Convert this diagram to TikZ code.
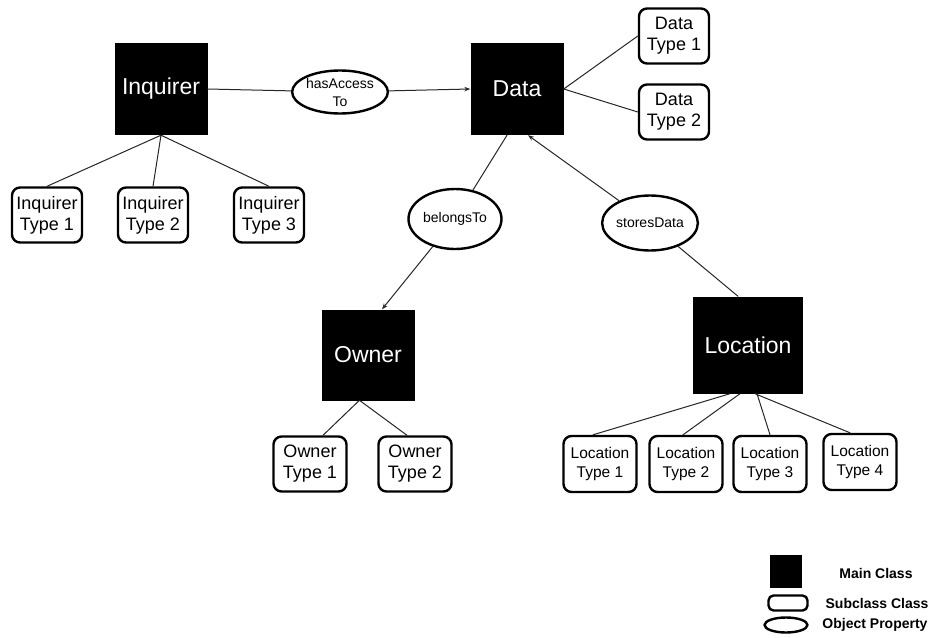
\documentclass[tikz,border=0pt]{standalone}
\usepackage{fontspec}
\setmainfont{Liberation Sans}
\usetikzlibrary{shapes.geometric,arrows.meta}

\begin{document}
\begin{tikzpicture}[x=1pt, y=-1pt, line cap=round, line join=round, >={Stealth[length=6pt,width=4.5pt]}]
	\tikzset{mainclass/.style={fill=black, text=white, inner sep=0pt, minimum width=93pt, minimum height=92pt, font=\fontsize{23}{26}\selectfont},
		subclass/.style={draw, line width=2.4pt, rounded corners=8pt, inner sep=0pt, minimum width=70pt, minimum height=55pt, align=center, font=\fontsize{18}{21}\selectfont},
		smallsub/.style={subclass, minimum width=73pt, minimum height=56pt, font=\fontsize{15.5}{19}\selectfont},
		property/.style={draw, ellipse, line width=2.4pt, inner sep=0pt, minimum width=93pt, align=center, font=\fontsize{14}{18}\selectfont},
		link/.style={line width=1pt, draw=black!85},
		legendtext/.style={font=\bfseries\fontsize{14}{16}\selectfont}}
	\useasboundingbox (0,0) rectangle (934,637);
	% main classes
	\node[mainclass] (inq) at (161,89) {Inquirer};
	\node[mainclass] (data) at (517,89) {Data};
	\node[mainclass, minimum height=91pt] (owner) at (368,355) {Owner};
	\node[mainclass, minimum width=110pt, minimum height=97pt] (loc) at (748,345) {Location};
	% object properties
	\node[property, minimum height=43pt] (hasacc) at (340,92) {hasAccess\\To};
	\node[property, minimum height=60pt] (belongs) at (455,219) {belongsTo};
	\node[property, minimum height=55pt] (stores) at (650,223) {storesData};
	% subclasses
	\node[subclass] (it1) at (47,215) {Inquirer\\Type 1};
	\node[subclass] (it2) at (153,215) {Inquirer\\Type 2};
	\node[subclass] (it3) at (269,215) {Inquirer\\Type 3};
	\node[subclass] (dt1) at (674,36) {Data\\Type 1};
	\node[subclass] (dt2) at (674,112) {Data\\Type 2};
	\node[subclass, minimum width=73pt] (ot1) at (310,464) {Owner\\Type 1};
	\node[subclass, minimum width=73pt] (ot2) at (415,464) {Owner\\Type 2};
	\node[smallsub] (lt1) at (600,464) {Location\\Type 1};
	\node[smallsub] (lt2) at (686,464) {Location\\Type 2};
	\node[smallsub] (lt3) at (770,464) {Location\\Type 3};
	\node[smallsub] (lt4) at (860,462) {Location\\Type 4};
	% connectors
	\draw[link] (inq.east) -- (hasacc);
	\draw[link, ->] (hasacc) -- (data.west);
	\draw[link] ([xshift=-10pt]data.south) -- (belongs);
	\draw[link, ->] (belongs) -- ([xshift=14pt]owner.north);
	\draw[link] ([xshift=-10pt]loc.north) -- (stores);
	\draw[link, ->] (stores) -- ([xshift=11pt]data.south);
	\draw[link] (data.east) -- (dt1.west) (data.east) -- (dt2.west);
	\draw[link] (inq.south) -- (it1.north) (inq.south) -- (it2.north) (inq.south) -- (it3.north);
	\draw[link] ([xshift=-9pt]owner.south) -- ([xshift=13pt]ot1.north)
		([xshift=-8pt]owner.south) -- ([xshift=-8pt]ot2.north);
	\draw[link] ([xshift=-18pt]loc.south) -- ([xshift=-7pt]lt1.north)
		([xshift=-8pt]loc.south) -- ([xshift=-3pt]lt2.north)
		([xshift=9pt]loc.south) -- (lt3.north)
		([xshift=7pt]loc.south) -- ([xshift=-10pt]lt4.north);
	% legend
	\node[fill=black, inner sep=0pt, minimum width=32pt, minimum height=33pt] (keymain) at (786,571) {};
	\node[draw, line width=2.4pt, rounded corners=5pt, inner sep=0pt, minimum width=39pt, minimum height=15pt] (keysub) at (788,603) {};
	\node[draw, ellipse, line width=2.4pt, inner sep=0pt, minimum width=43pt, minimum height=15pt] (keyprop) at (786,625) {};
	\node[legendtext] (keymaintext) at (876,573) {Main Class};
	\node[legendtext] (keysubtext) at (877,603) {Subclass Class};
	\node[legendtext] (keyproptext) at (875,625) {Object Property};
\end{tikzpicture}
\end{document}
